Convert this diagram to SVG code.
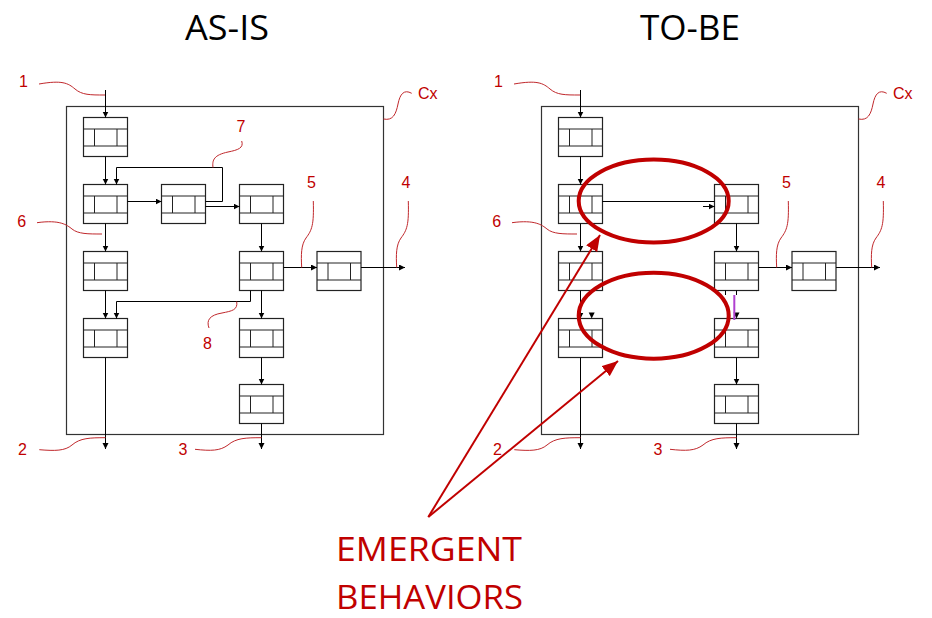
<svg xmlns="http://www.w3.org/2000/svg" xmlns:xlink="http://www.w3.org/1999/xlink" width="932" height="618" viewBox="0 0 932 618">
<style>
.frame{fill:none;stroke:#333;stroke-width:1.2}
.nd{fill:#fff;stroke:#222;stroke-width:1.2}
.ln{fill:none;stroke:#222;stroke-width:1}
.cn{fill:none;stroke:#000;stroke-width:1}
.sq{fill:none;stroke:#c0282c;stroke-width:1}
.lbl{font-family:"Liberation Sans",Arial,sans-serif;font-size:16px;fill:#c00000}
.title{font-family:"Open Sans","Liberation Sans",sans-serif;font-size:35px;fill:#000}
.big{font-family:"Open Sans","Liberation Sans",sans-serif;font-size:32px;fill:#c00000}
.ell{fill:none;stroke:#c00000;stroke-width:4}
.rarr{fill:none;stroke:#c00000;stroke-width:2}
</style>
<defs>
<marker id="ah" markerUnits="userSpaceOnUse" markerWidth="7" markerHeight="7" refX="6" refY="3" orient="auto">
<path d="M0,0 L6,3 L0,6 z" fill="#000"/>
</marker>
<marker id="rh" markerUnits="userSpaceOnUse" markerWidth="17" markerHeight="13" refX="16" refY="6.5" orient="auto">
<path d="M0,0 L16,6.5 L0,13 z" fill="#c00000"/>
</marker>
<g id="blk">
<rect class="nd" x="0" y="0" width="44" height="39"/>
<path class="ln" d="M0,11.5 H44 M0,28.5 H44 M11,11.5 V28.5 M33.5,11.5 V28.5"/>
</g>
</defs>
<rect width="932" height="618" fill="#fff"/>

<text class="title" x="185" y="40" textLength="84" lengthAdjust="spacingAndGlyphs">AS-IS</text>
<text class="title" x="640" y="40" textLength="100" lengthAdjust="spacingAndGlyphs">TO-BE</text>

<!-- AS-IS -->
<g id="asis-frame"><rect class="frame" x="66.5" y="106.5" width="317" height="328"/></g>
<g id="asis-A"><use xlink:href="#blk" x="83.5" y="117.5"/></g>
<g id="asis-B"><use xlink:href="#blk" x="83.5" y="184.5"/></g>
<g id="asis-C"><use xlink:href="#blk" x="161.5" y="184.5"/></g>
<g id="asis-D"><use xlink:href="#blk" x="239.5" y="184.5"/></g>
<g id="asis-E"><use xlink:href="#blk" x="239.5" y="251.5"/></g>
<g id="asis-F"><use xlink:href="#blk" x="317" y="251.5"/></g>
<g id="asis-G"><use xlink:href="#blk" x="83.5" y="251.5"/></g>
<g id="asis-H"><use xlink:href="#blk" x="83.5" y="318.5"/></g>
<g id="asis-I"><use xlink:href="#blk" x="239.5" y="318.5"/></g>
<g id="asis-J"><use xlink:href="#blk" x="239.5" y="384.5"/></g>

<!-- TO-BE -->
<g id="tobe-frame"><rect class="frame" x="541.5" y="106.5" width="317" height="328"/></g>
<g id="tobe-A"><use xlink:href="#blk" x="558.5" y="117.5"/></g>
<g id="tobe-B"><use xlink:href="#blk" x="558.5" y="184.5"/></g>
<g id="tobe-D"><use xlink:href="#blk" x="714.5" y="184.5"/></g>
<g id="tobe-E"><use xlink:href="#blk" x="714.5" y="251.5"/></g>
<g id="tobe-F"><use xlink:href="#blk" x="792" y="251.5"/></g>
<g id="tobe-G"><use xlink:href="#blk" x="558.5" y="251.5"/></g>
<g id="tobe-H"><use xlink:href="#blk" x="558.5" y="318.5"/></g>
<g id="tobe-I"><use xlink:href="#blk" x="714.5" y="318.5"/></g>
<g id="tobe-J"><use xlink:href="#blk" x="714.5" y="384.5"/></g>

<g id="connectors">
<!-- AS-IS -->
<path class="cn" marker-end="url(#ah)" d="M105.5,90 V117.5"/>
<path class="cn" marker-end="url(#ah)" d="M105.5,156.5 V184.5"/>
<path class="cn" marker-end="url(#ah)" d="M127.5,201.5 H161.5"/>
<path class="cn" marker-end="url(#ah)" d="M205.5,201.5 H222.5 V167.5 H116.5 V184.5"/>
<path class="cn" marker-end="url(#ah)" d="M205.5,206.5 H239.5"/>
<path class="cn" marker-end="url(#ah)" d="M105.5,223.5 V251.5"/>
<path class="cn" marker-end="url(#ah)" d="M261.5,223.5 V251.5"/>
<path class="cn" marker-end="url(#ah)" d="M283.5,267.5 H317"/>
<path class="cn" marker-end="url(#ah)" d="M361,267.5 H405"/>
<path class="cn" marker-end="url(#ah)" d="M105.5,290.5 V318.5"/>
<path class="cn" marker-end="url(#ah)" d="M250.5,290.5 V301.5 H116.5 V318.5"/>
<path class="cn" marker-end="url(#ah)" d="M261.5,290.5 V318.5"/>
<path class="cn" marker-end="url(#ah)" d="M261.5,357.5 V384.5"/>
<path class="cn" marker-end="url(#ah)" d="M261.5,423.5 V449"/>
<path class="cn" marker-end="url(#ah)" d="M105.5,357.5 V449"/>
<!-- TO-BE -->
<path class="cn" marker-end="url(#ah)" d="M580.5,90 V117.5"/>
<path class="cn" marker-end="url(#ah)" d="M580.5,156.5 V184.5"/>
<path class="cn" d="M602.5,201.5 H714.5"/>
<path class="cn" stroke-width="2" d="M602.5,201.5 H626.5"/>
<path class="cn" marker-end="url(#ah)" d="M703,206.5 H714.5"/>
<path class="cn" marker-end="url(#ah)" d="M580.5,223.5 V251.5"/>
<path class="cn" marker-end="url(#ah)" d="M736.5,223.5 V251.5"/>
<path class="cn" marker-end="url(#ah)" d="M758.5,267.5 H792"/>
<path class="cn" marker-end="url(#ah)" d="M836,267.5 H880"/>
<path class="cn" marker-end="url(#ah)" d="M580.5,290.5 V318.5"/>
<path d="M588.7,312.5 L594.7,312.5 L591.7,318.5 z" fill="#000"/>
<path class="cn" d="M725.5,290.5 V295 M736.5,290.5 V295"/>
<path d="M733.5,312.5 L739.5,312.5 L736.5,318.5 z" fill="#000"/>
<path fill="none" stroke="#b040d0" stroke-width="2" d="M734.3,295 V320"/>
<path class="cn" marker-end="url(#ah)" d="M736.5,357.5 V384.5"/>
<path class="cn" marker-end="url(#ah)" d="M736.5,423.5 V449"/>
<path class="cn" marker-end="url(#ah)" d="M580.5,357.5 V449"/>
</g>

<g id="leaders">
<path class="sq" d="M39,84 C62,80 68,83 75,89 C82,95 90,95 105,95"/>
<path class="sq" d="M37,222.7 C60,219.5 67,225 72,229 C78,234 88,234 102,234"/>
<path class="sq" d="M241.7,141 C244,148 238,150 228,152 C214,155 212,160 213,167.5"/>
<path class="sq" d="M313.3,201 C314,225 312,230 306,238 C301,245 301,255 301.7,267.5"/>
<path class="sq" d="M408.3,201 C409,225 407,230 401,238 C396,245 396,255 396.7,267.5"/>
<path class="sq" d="M411.7,93.3 C404,89 400,94 398,104 C396,114 393,121 383.5,119"/>
<path class="sq" d="M236.7,301.5 C238,310 232,311 222,313 C210,315 206,320 209,328"/>
<path class="sq" d="M39.3,449.7 C55,451 65,451 72,445 C80,438 90,437.7 105.5,437.7"/>
<path class="sq" d="M195,449.3 C211,451 220,451 228,445 C236,438 246,437.7 261.5,437.7"/>

<path class="sq" d="M514,84 C537,80 543,83 550,89 C557,95 565,95 580,95"/>
<path class="sq" d="M512,222.7 C535,219.5 542,225 547,229 C553,234 563,234 577,234"/>
<path class="sq" d="M788.3,201 C789,225 787,230 781,238 C776,245 776,255 776.7,267.5"/>
<path class="sq" d="M883.3,201 C884,225 882,230 876,238 C871,245 871,255 871.7,267.5"/>
<path class="sq" d="M886.7,93.3 C879,89 875,94 873,104 C871,114 868,121 858.5,119"/>
<path class="sq" d="M514.3,449.7 C530,451 540,451 547,445 C555,438 565,437.7 580.5,437.7"/>
<path class="sq" d="M670,449.3 C686,451 695,451 703,445 C711,438 721,437.7 736.5,437.7"/>
</g>

<g id="labels">
<text class="lbl" x="23.5" y="87" text-anchor="middle">1</text>
<text class="lbl" x="21.7" y="227" text-anchor="middle">6</text>
<text class="lbl" x="241" y="132" text-anchor="middle">7</text>
<text class="lbl" x="311.5" y="188" text-anchor="middle">5</text>
<text class="lbl" x="406" y="188" text-anchor="middle">4</text>
<text class="lbl" x="418" y="98.5">Cx</text>
<text class="lbl" x="207.5" y="349" text-anchor="middle">8</text>
<text class="lbl" x="22.5" y="454.5" text-anchor="middle">2</text>
<text class="lbl" x="183" y="454.5" text-anchor="middle">3</text>

<text class="lbl" x="498.5" y="87" text-anchor="middle">1</text>
<text class="lbl" x="496.7" y="227" text-anchor="middle">6</text>
<text class="lbl" x="786.5" y="188" text-anchor="middle">5</text>
<text class="lbl" x="881" y="188" text-anchor="middle">4</text>
<text class="lbl" x="893" y="98.5">Cx</text>
<text class="lbl" x="497.5" y="454.5" text-anchor="middle">2</text>
<text class="lbl" x="658" y="454.5" text-anchor="middle">3</text>
</g>

<g id="emergent">
<ellipse class="ell" cx="653.7" cy="201" rx="75" ry="41.5"/>
<ellipse class="ell" cx="653.7" cy="315.7" rx="75" ry="43"/>
<path class="rarr" marker-end="url(#rh)" d="M428.3,517 L600,235"/>
<path class="rarr" marker-end="url(#rh)" d="M428.3,517 L618,361"/>
<text class="big" x="336" y="561" textLength="186" lengthAdjust="spacingAndGlyphs">EMERGENT</text>
<text class="big" x="336" y="608.5" textLength="187" lengthAdjust="spacingAndGlyphs">BEHAVIORS</text>
</g>
</svg>
